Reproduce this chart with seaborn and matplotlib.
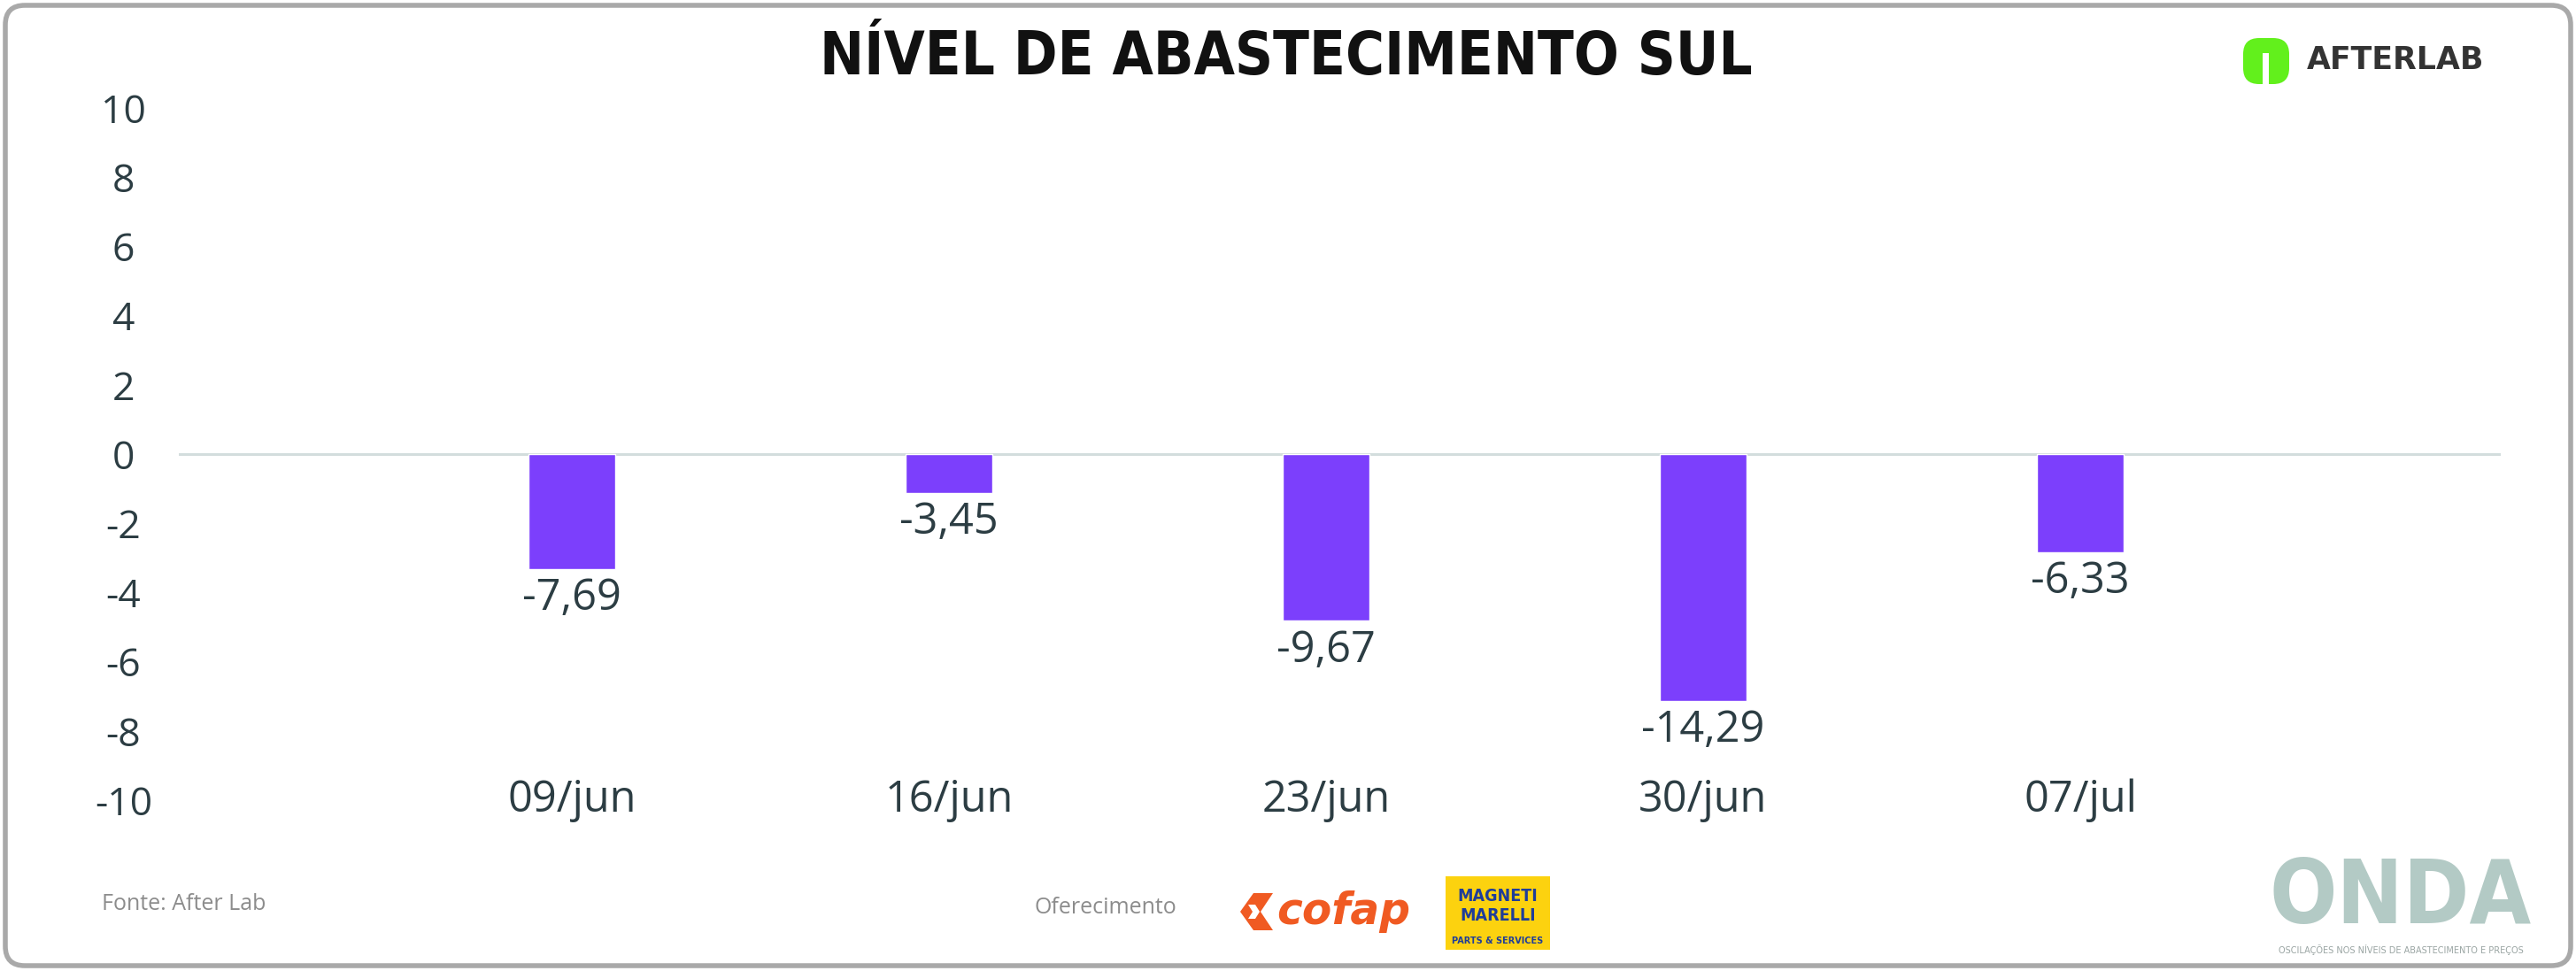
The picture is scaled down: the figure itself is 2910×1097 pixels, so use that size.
import pandas as pd
import seaborn as sns
import matplotlib.pyplot as plt
from matplotlib import font_manager
from matplotlib.patches import FancyBboxPatch, Polygon, Rectangle


# Weekly supply level, South region (values shown on the labels)
dates = ["09/jun", "16/jun", "23/jun", "30/jun", "07/jul"]
variation = [-7.69, -3.45, -9.67, -14.29, -6.33]
# bar lengths as they are drawn against the axis in the original chart
bar_length = [-3.32, -1.12, -4.82, -7.14, -2.83]
y_ticks = [-10, -8, -6, -4, -2, 0, 2, 4, 6, 8, 10]

W, H = 2910, 1097
purple = "#7c3ffc"
ink = "#2c3d43"

sns.set_theme(style="white")
plt.rcParams["font.family"] = ["Open Sans", "DejaVu Sans"]

# a condensed bold face for the title and the ONDA mark, if there is one
files = [f.fname for f in font_manager.fontManager.ttflist]
has_condensed = any("DejaVuSansCondensed-Bold" in f for f in files)
stretch = "condensed" if has_condensed else "normal"
title_size = 48 if has_condensed else 42
onda_size = 72 if has_condensed else 64

df = pd.DataFrame({"data": dates, "nivel": bar_length})

fig = plt.figure(figsize=(W / 100, H / 100), dpi=100, facecolor="white")

# decoration layer in pixel coordinates (title, logos, frame)
deco = fig.add_axes([0, 0, 1, 1], zorder=-1)
deco.set_xlim(0, W)
deco.set_ylim(H, 0)
deco.axis("off")

ax = fig.add_axes([202 / W, 1 - 904 / H, (2825 - 202) / W, (904 - 122) / H])
ax.patch.set_alpha(0)

sns.barplot(data=df, x="data", y="nivel", color=purple, width=0.23,
            saturation=1, ax=ax)
ax.axhline(0, color="#d3dddd", lw=2.2, zorder=0)

# value labels under each bar
for i, (h, v) in enumerate(zip(bar_length, variation)):
    ax.annotate(f"{v:.2f}".replace(".", ","), (i, h), xytext=(0, -24),
                textcoords="offset points", ha="center", va="center",
                fontsize=35, color=ink)

ax.set_xlim(-1.042, 5.115)
ax.set_ylim(-10, 10)
ax.set_yticks(y_ticks)
ax.set_yticklabels([str(t) for t in y_ticks])
ax.set_xlabel("")
ax.set_ylabel("")
ax.grid(False)
sns.despine(ax=ax, left=True, bottom=True)
ax.tick_params(axis="y", length=0, pad=45, labelsize=32, labelcolor=ink)
ax.tick_params(axis="x", length=0, pad=0, labelsize=35, labelcolor=ink)
for lab in ax.get_yticklabels():
    lab.set_ha("center")
for lab in ax.get_xticklabels():
    lab.set_va("center")

# frame
deco.add_patch(FancyBboxPatch((6, 6), W - 12, H - 12,
                              boxstyle="round,pad=0,rounding_size=22",
                              fill=False, ec="#a9a9a9", lw=4))

# title
deco.text(1453, 65, "NÍVEL DE ABASTECIMENTO SUL", family="DejaVu Sans",
          fontstretch=stretch, weight="bold", size=title_size,
          ha="center", va="center", color="#111111")

# AFTERLAB logo
deco.add_patch(FancyBboxPatch((2534, 43), 52, 52,
                              boxstyle="round,pad=0,rounding_size=18",
                              fc="#62f01c", ec="none"))
deco.add_patch(Rectangle((2556, 60), 7, 36, fc="white", ec="none"))
deco.text(2606, 68, "AFTERLAB", family="DejaVu Sans", weight="bold", size=25,
          ha="left", va="center", color="#333333")

# footer
deco.text(115, 1021, "Fonte: After Lab", size=18, color="#8c8c8c",
          ha="left", va="center")
deco.text(1169, 1025, "Oferecimento", size=18, color="#8c8c8c",
          ha="left", va="center")

# cofap logo
orange = "#f05a22"
deco.add_patch(Polygon([(1401, 1030), (1416, 1009), (1438, 1009), (1424, 1030),
                        (1438, 1051), (1416, 1051)], closed=True, fc=orange, ec="none"))
deco.add_patch(Polygon([(1410, 1022), (1418, 1022), (1423, 1030), (1418, 1038),
                        (1410, 1038), (1415, 1030)], closed=True, fc="white", ec="none"))
deco.text(1442, 1030, "cofap", family="DejaVu Sans", weight="bold", style="italic",
          size=35, color=orange, ha="left", va="center")

# Magneti Marelli logo
blue = "#1f3d99"
deco.add_patch(Rectangle((1633, 990), 118, 83, fc="#fcd20f", ec="none"))
deco.text(1692, 1012, "MAGNETI", family="DejaVu Sans", fontstretch=stretch,
          weight="bold", size=14, color=blue, ha="center", va="center")
deco.text(1692, 1034, "MARELLI", family="DejaVu Sans", fontstretch=stretch,
          weight="bold", size=14, color=blue, ha="center", va="center")
deco.text(1692, 1063, "PARTS & SERVICES", family="DejaVu Sans", weight="bold",
          size=7, color=blue, ha="center", va="center")

# ONDA logo
deco.text(2712, 1015, "ONDA", family="DejaVu Sans", fontstretch=stretch,
          weight="bold", size=onda_size, color="#b3cac5",
          ha="center", va="center")
deco.text(2712, 1073, "OSCILAÇÕES NOS NÍVEIS DE ABASTECIMENTO E PREÇOS",
          family="DejaVu Sans", size=7, color="#9aa5a3", ha="center", va="center")

fig.savefig("out.png", dpi=100, facecolor="white")
